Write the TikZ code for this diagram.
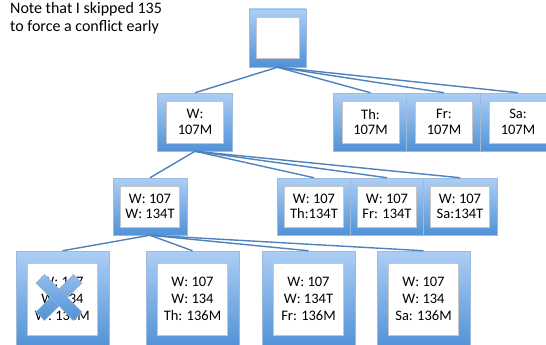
\documentclass[tikz,border=0pt]{standalone}
\usepackage{fontspec}
\setmainfont{Carlito}
\usepackage{xcolor}
\usetikzlibrary{shadows}

\definecolor{frameTop}{RGB}{172,206,245}
\definecolor{frameBot}{RGB}{82,146,214}
\definecolor{linkBlue}{RGB}{79,129,189}

\begin{document}
\begin{tikzpicture}[
    x=1pt, y=-1pt,
    frame/.style={
        rectangle,
        inner sep=0pt,
        top color=frameTop,
        bottom color=frameBot,
        draw=linkBlue!55,
        line width=0.5pt,
        drop shadow={opacity=0.25, shadow xshift=0.8pt, shadow yshift=-1.2pt}
    },
    pane/.style={
        rectangle,
        inner sep=0pt,
        fill=white,
        draw=gray!45,
        line width=0.4pt,
        align=center,
        font=\fontsize{14.5}{15.5}\selectfont
    },
    frame0/.style={frame, minimum width=57, minimum height=58},
    pane0/.style={pane, minimum width=43, minimum height=41},
    frame1/.style={frame, minimum width=75, minimum height=58},
    pane1/.style={pane, minimum width=57, minimum height=42},
    frame2/.style={frame, minimum width=73.5, minimum height=57},
    pane2/.style={pane, minimum width=59, minimum height=41},
    frame3/.style={frame, minimum width=93, minimum height=96},
    pane3/.style={pane, minimum width=70, minimum height=72, font=\fontsize{14.5}{17}\selectfont},
    link/.style={draw=linkBlue, line width=1.4pt},
    crossbar/.style={
        rectangle,
        inner sep=0pt,
        minimum width=53,
        minimum height=12,
        top color=frameTop!70!frameBot,
        bottom color=frameBot,
        draw=linkBlue!60,
        line width=0.4pt
    }
]
    \useasboundingbox (0,0) rectangle (546,345);
    \clip (0,0) rectangle (546,345);

    % note
    \node [anchor=north west, align=left, inner sep=0pt, font=\fontsize{16}{18}\selectfont] (note) at (10,2.5)
        {Note that I skipped 135\\to force a conflict early};

    % root
    \node [frame0] (root) at (277.5,38) {};
    \node [pane0] (root-in) at (root) {};

    % first level
    \node [frame1] (w1) at (195,122) {};
    \node [pane1] (w1-in) at (w1) {W:\\107M};
    \node [frame1] (th1) at (370.5,122) {};
    \node [pane1] (th1-in) at (th1) {Th:\\107M};
    \node [frame1] (fr1) at (444,122) {};
    \node [pane1] (fr1-in) at (fr1) {Fr:\\107M};
    \node [frame1] (sa1) at (518,122) {};
    \node [pane1] (sa1-in) at (sa1) {Sa:\\107M};

    % second level
    \node [frame2] (w2) at (150,206.5) {};
    \node [pane2] (w2-in) at (w2) {W: 107\\W: 134T};
    \node [frame2] (th2) at (314,206.5) {};
    \node [pane2] (th2-in) at (th2) {W: 107\\Th:134T};
    \node [frame2] (fr2) at (387,206.5) {};
    \node [pane2] (fr2-in) at (fr2) {W: 107\\Fr: 134T};
    \node [frame2] (sa2) at (460,206.5) {};
    \node [pane2] (sa2-in) at (sa2) {W: 107\\Sa:134T};

    % third level
    \node [frame3] (w3) at (62.5,299) {};
    \node [pane3] (w3-in) at (w3) {W: 107\\W: 134\\W: 136M};
    \node [frame3] (th3) at (192.5,299) {};
    \node [pane3] (th3-in) at (th3) {W: 107\\W: 134\\Th: 136M};
    \node [frame3] (fr3) at (308.5,299) {};
    \node [pane3] (fr3-in) at (fr3) {W: 107\\W: 134T\\Fr: 136M};
    \node [frame3] (sa3) at (423.5,299) {};
    \node [pane3] (sa3-in) at (sa3) {W: 107\\W: 134\\Sa: 136M};

    % conflict mark
    \node [crossbar, rotate=45] (xa) at (59,297.5) {};
    \node [crossbar, rotate=-45] (xb) at (59,297.5) {};

    % links
    \foreach \c in {w1,th1,fr1,sa1}
        \draw [link] (root.south) -- (\c.north);
    \foreach \c in {w2,th2,fr2,sa2}
        \draw [link] (w1.south) -- (\c.north);
    \foreach \c in {w3,th3,fr3,sa3}
        \draw [link] (w2.south) -- (\c.north);

\end{tikzpicture}
\end{document}
